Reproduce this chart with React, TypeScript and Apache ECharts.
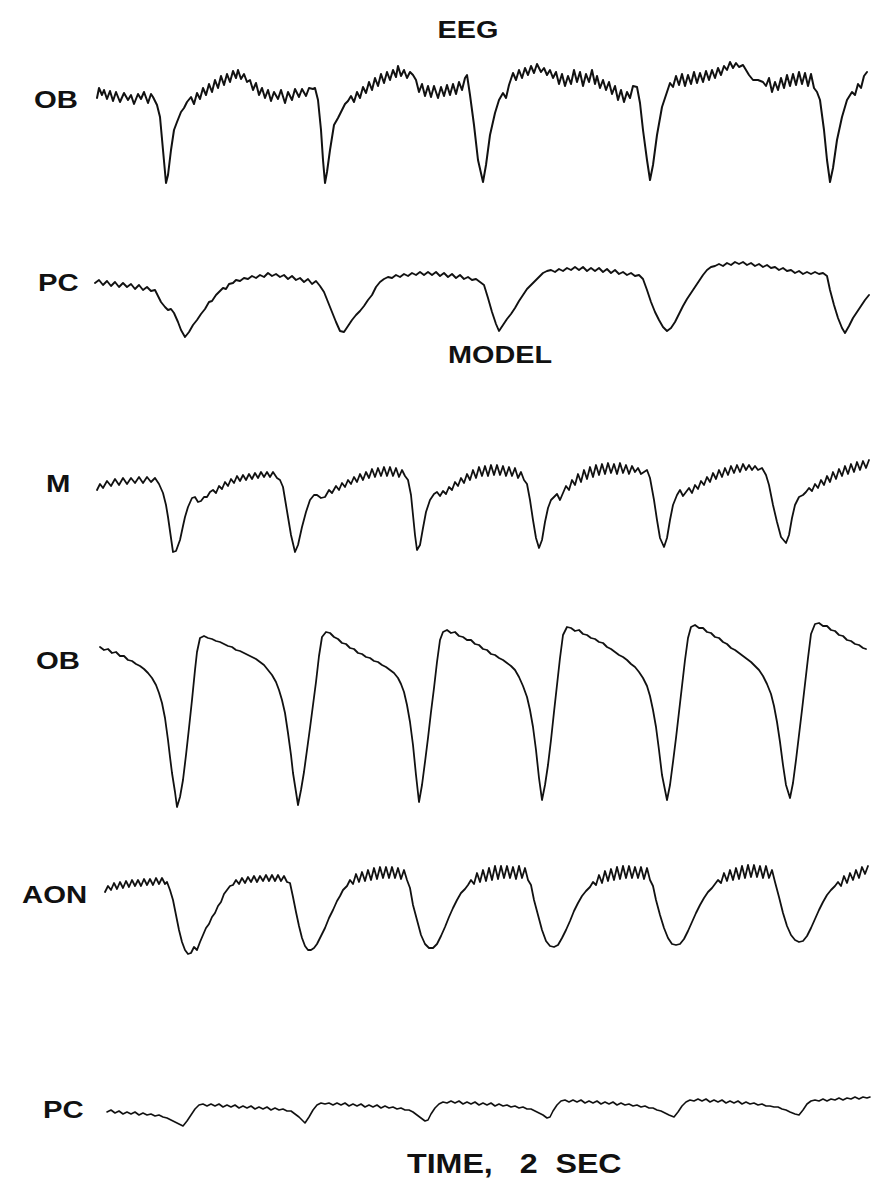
import React, { useEffect, useRef } from "react";
import * as echarts from "echarts";

// ---- data: [time sample, amplitude] ----
const traceNames = ["OB", "PC", "M", "OB", "AON", "PC"];
const sectionTitles = ["EEG", "MODEL"];
const timeLabel = "TIME,   2  SEC";

const eegOb: number[][] = [
  [7,2],[9,12],[12,5],[14,10],[17,1],[20,9],[23,-1],[26,8],[30,-2],[34,7],[38,0],[41,5],[44,-4],[48,6],[51,1],[54,8],[58,-3],[61,6],[63,3],
  [67,-5],[70,-17],[73,-50],[76,-83],[78,-75],[81,-50],[84,-30],[87,-22],[91,-12],[94,-8],[97,-2],
  [101,3],[104,-4],[107,7],[110,1],[113,12],[116,5],[119,16],[122,8],[125,20],[128,12],[131,24],[134,15],[137,26],[140,18],[143,29],[146,22],[148,30],[151,21],[154,26],[157,18],
  [160,20],[163,10],[166,17],[169,5],[172,12],[175,2],[178,10],[181,-1],[184,8],[188,1],[191,10],[195,-3],[198,8],[202,0],[205,11],[209,3],[212,11],[216,4],[219,12],[223,11],[225,12],
  [228,0],[231,-30],[233,-60],[235,-83],[237,-72],[240,-50],[244,-25],[248,-18],[252,-10],[255,-4],[258,-1],
  [261,4],[264,-2],[267,8],[270,2],[273,13],[276,7],[279,18],[282,10],[285,22],[288,14],[291,26],[294,17],[297,28],[300,20],[303,30],[306,23],[308,34],[311,24],[314,30],[317,22],[320,28],[323,25],
  [326,20],[329,8],[332,16],[335,4],[338,14],[341,3],[344,14],[348,2],[351,13],[354,4],[357,15],[360,5],[363,16],[366,6],[369,18],[372,10],[375,22],[377,25],
  [380,5],[384,-25],[388,-60],[393,-82],[396,-65],[400,-35],[405,-13],[409,0],[413,7],[416,2],[419,15],[423,27],
  [426,20],[429,30],[432,22],[435,32],[438,25],[441,34],[444,27],[447,36],[451,28],[454,32],[457,25],[460,30],[463,22],
  [466,28],[469,16],[472,26],[475,14],[478,24],[481,16],[484,30],[487,18],[490,28],[493,14],[496,26],[499,18],[502,30],[505,16],[507,24],
  [510,12],[513,20],[516,10],[519,18],[522,6],[525,14],[528,0],[531,10],[534,-2],[537,8],[540,2],[543,14],[547,13],
  [550,-3],[553,-30],[557,-60],[560,-80],[563,-65],[567,-35],[572,-7],[576,5],[580,17],
  [583,13],[586,24],[589,15],[592,26],[595,14],[598,25],[601,16],[604,28],[607,17],[610,27],[613,18],[616,29],[619,20],[622,30],[625,22],[628,32],[631,25],[634,34],[637,30],[640,38],[643,32],[646,37],[649,33],[653,35],
  [656,30],[659,25],[663,20],[668,20],[673,18],
  [676,14],[679,22],[682,8],[685,18],[688,10],[691,22],[694,12],[697,25],[700,14],[703,26],[706,15],[709,28],[712,16],[715,27],[718,14],[721,26],[724,12],[727,8],
  [730,0],[734,-30],[737,-60],[740,-82],[743,-68],[747,-40],[752,-17],[757,0],[762,8],[765,5],[768,16],[771,12],[774,24],[777,28]
];

const eegPc: number[][] = [
  [5,-3],[9,0],[13,-5],[17,-1],[21,-6],[25,-2],[29,-7],[33,-3],[37,-7],[41,-4],[45,-9],[49,-5],[53,-10],[57,-7],[61,-11],[65,-10],
  [68,-16],[71,-22],[75,-27],[78,-30],[81,-29],[84,-33],[88,-42],[91,-50],[95,-57],[99,-52],[103,-45],[107,-40],[111,-34],[115,-29],[119,-22],[122,-21],[126,-15],[129,-12],[133,-8],[136,-9],[139,-4],[143,-3],
  [146,0],[150,-1],[154,2],[158,1],[162,4],[166,2],[170,5],[174,3],[178,7],[182,4],[186,6],[190,3],[194,5],[198,1],[202,4],[206,0],[210,2],[214,-2],[218,1],[222,-4],[226,-1],[230,-6],
  [234,-12],[238,-22],[242,-32],[246,-42],[250,-51],[254,-52],[258,-46],[262,-40],[266,-35],[270,-31],[274,-26],[278,-20],[282,-15],[286,-7],[290,-2],
  [294,1],[298,3],[302,2],[306,5],[310,3],[314,6],[318,4],[322,7],[326,5],[330,8],[334,5],[338,8],[342,5],[346,8],[350,4],[354,7],[358,3],[362,6],[366,2],[370,5],[374,1],[378,3],[382,0],[386,1],[390,-2],[394,-5],
  [398,-18],[402,-32],[406,-44],[409,-51],[413,-45],[417,-39],[421,-34],[425,-28],[429,-21],[433,-15],[437,-9],[441,-5],[445,-1],[449,3],[453,7],
  [457,9],[461,10],[465,8],[469,11],[473,9],[477,12],[481,10],[485,13],[489,10],[493,13],[497,9],[501,12],[505,9],[509,12],[513,8],[517,11],[521,7],[525,10],[529,6],[533,8],[537,5],[541,7],[545,4],[549,5],[553,1],
  [557,-10],[561,-22],[565,-32],[569,-40],[573,-47],[577,-51],[581,-48],[585,-42],[589,-34],[593,-26],[597,-19],[601,-13],[605,-7],[609,-1],[613,5],[617,10],[621,13],
  [625,14],[629,16],[633,14],[637,17],[641,15],[645,18],[649,16],[653,18],[657,15],[661,17],[665,14],[669,16],[673,13],[677,15],[681,12],[685,13],[689,10],[693,12],[697,9],[701,10],[705,7],[709,9],[713,6],[717,8],[721,6],[725,8],[729,6],[733,7],[737,4],
  [740,-10],[744,-25],[748,-38],[752,-48],[755,-53],[759,-46],[763,-38],[767,-32],[771,-26],[775,-20],[779,-15]
];

const modelM: number[][] = [
  [7,-10],[10,-4],[13,-8],[17,-1],[21,-6],[25,1],[29,-5],[33,2],[37,-4],[41,2],[45,-3],[49,3],[53,-3],[57,3],[61,-2],[65,2],
  [69,-4],[73,-13],[76,-25],[78,-37],[81,-58],[83,-72],[86,-71],[90,-60],[93,-46],[95,-37],[98,-27],[102,-18],[105,-17],[108,-22],[111,-21],[114,-17],[117,-17],
  [120,-12],[123,-10],[126,-13],[129,-6],[132,-9],[135,-2],[138,-6],[141,1],[144,-3],[147,4],[150,-1],[153,5],[156,0],[159,6],[162,1],[165,7],[168,2],[171,8],[174,3],[177,8],[180,3],[183,8],[187,2],[190,0],
  [193,-7],[196,-25],[198,-37],[201,-55],[205,-72],[208,-65],[212,-47],[216,-32],[220,-20],[224,-15],[227,-15],[231,-18],[235,-17],
  [239,-10],[242,-13],[246,-6],[249,-10],[252,-3],[255,-7],[258,0],[261,-4],[264,3],[267,-2],[270,6],[273,0],[276,8],[279,2],[282,11],[285,3],[288,12],[291,4],[294,13],[297,4],[300,13],[303,4],[306,12],[309,3],[312,10],[315,4],[318,0],
  [321,-15],[323,-35],[325,-55],[327,-70],[330,-65],[333,-48],[336,-32],[340,-20],[344,-14],[347,-12],[350,-16],[353,-11],[356,-14],[359,-7],[362,-10],[365,-2],[368,-6],[371,2],[374,-3],[377,6],[380,0],
  [383,10],[386,2],[389,13],[392,4],[395,14],[398,4],[401,15],[404,5],[407,15],[410,5],[413,14],[416,4],[419,13],[422,4],[425,12],[428,2],[431,8],[434,0],[437,-4],
  [440,-20],[443,-40],[446,-58],[449,-68],[452,-60],[455,-42],[458,-28],[461,-20],[464,-17],[467,-14],[470,-20],[473,-13],[476,-6],[479,-10],[482,0],[485,-5],
  [488,6],[491,-2],[494,10],[497,1],[500,13],[503,3],[506,15],[509,5],[512,16],[515,6],[518,17],[521,7],[524,16],[527,6],[530,17],[533,7],[536,15],[539,6],[542,14],[545,8],[548,12],[551,6],[554,8],[557,10],[560,2],
  [564,-20],[567,-40],[570,-58],[574,-67],[577,-58],[580,-40],[583,-25],[587,-15],[590,-10],[593,-16],[596,-12],[599,-8],[602,-13],[605,-5],[608,-9],[611,-1],[614,-5],[617,3],[620,-2],
  [623,7],[626,1],[629,10],[632,3],[635,12],[638,5],[641,14],[644,7],[647,15],[650,8],[653,16],[656,10],[659,15],[662,10],[665,14],[668,10],[672,12],[676,5],
  [679,-5],[683,-25],[687,-42],[691,-57],[696,-63],[699,-55],[702,-38],[705,-25],[709,-17],[713,-15],[716,-12],[719,-8],[722,-11],[725,-4],[728,-8],[731,0],[734,-5],
  [737,4],[740,-2],[743,8],[746,1],[749,11],[752,4],[755,14],[758,6],[761,16],[764,8],[767,18],[770,10],[773,19],[776,12],[779,20]
];

const modelOb: number[][] = [
  [10,3],[14,0],[18,1],[22,-3],[26,-2],[30,-6],[34,-6],[38,-10],[42,-11],[46,-14],[50,-16],[54,-19],[58,-23],[62,-28],[66,-35],[69,-43],[72,-53],[75,-68],[78,-90],[80,-107],[82,-123],[85,-142],[87,-157],
  [90,-147],[93,-130],[96,-105],[99,-78],[102,-50],[105,-20],[107,-2],[110,12],[114,14],
  [118,12],[122,11],[126,9],[130,8],[134,6],[138,4],[142,3],[146,0],[150,-1],[154,-3],[158,-5],[162,-7],[166,-9],[170,-12],[174,-15],[178,-20],[182,-25],[186,-32],[189,-40],[192,-50],[195,-63],[198,-83],[201,-105],[203,-123],[206,-142],[208,-155],
  [211,-140],[214,-122],[217,-100],[220,-78],[223,-55],[226,-32],[229,-6],[232,13],[236,18],
  [240,17],[244,13],[248,11],[252,7],[256,6],[260,2],[264,1],[268,-3],[272,-4],[276,-7],[280,-8],[284,-11],[288,-12],[292,-15],[296,-17],[300,-20],[304,-23],[308,-28],[311,-34],[314,-42],[317,-55],[320,-72],[323,-95],[326,-125],[329,-152],
  [332,-135],[335,-112],[338,-88],[341,-62],[344,-38],[347,-12],[350,10],[353,18],[357,20],
  [361,17],[365,18],[369,14],[373,13],[377,10],[381,10],[385,6],[389,5],[393,1],[397,0],[401,-4],[405,-5],[409,-8],[413,-10],[417,-13],[421,-16],[425,-20],[429,-27],[433,-36],[437,-47],[440,-60],[443,-77],[446,-100],[449,-128],[452,-150],
  [455,-135],[458,-115],[461,-90],[464,-62],[467,-35],[470,-8],[473,15],[477,23],
  [481,22],[485,19],[489,20],[493,16],[497,15],[501,12],[505,11],[509,8],[513,7],[517,3],[521,1],[525,-2],[529,-5],[533,-7],[537,-10],[541,-14],[545,-17],[549,-22],[553,-28],[557,-36],[560,-46],[563,-60],[566,-77],[569,-100],[572,-125],[577,-150],
  [580,-135],[583,-112],[586,-88],[589,-62],[592,-36],[595,-10],[598,12],[601,23],[605,25],
  [609,22],[613,22],[617,18],[621,17],[625,13],[629,12],[633,8],[637,6],[641,2],[645,0],[649,-3],[653,-6],[657,-9],[661,-12],[665,-16],[669,-20],[673,-26],[677,-34],[681,-44],[684,-56],[687,-72],[690,-92],[693,-115],[696,-135],[700,-148],
  [703,-133],[706,-110],[709,-85],[712,-60],[715,-34],[718,-8],[721,16],[725,26],[729,27],
  [733,24],[737,24],[741,20],[745,19],[749,15],[753,14],[757,10],[761,9],[765,6],[769,5],[773,2],[776,1]
];

const modelAon: number[][] = [
  [15,-2],[18,4],[21,0],[24,7],[27,1],[30,8],[33,2],[36,9],[39,3],[42,10],[45,4],[48,10],[51,4],[54,11],[57,5],[60,11],[63,5],[66,12],[69,6],[72,12],[75,6],[77,8],
  [80,0],[83,-10],[86,-25],[89,-40],[92,-52],[95,-60],[98,-64],[101,-63],[104,-57],[107,-60],[110,-52],[113,-45],[116,-38],[119,-34],[122,-27],[125,-23],[128,-16],[131,-12],[134,-4],[137,0],[140,4],[143,5],
  [146,10],[149,6],[152,12],[155,7],[158,13],[161,8],[164,14],[167,8],[170,14],[173,9],[176,15],[179,9],[182,15],[185,9],[188,15],[191,9],[194,14],[197,8],[200,7],
  [203,-7],[206,-22],[209,-36],[212,-48],[215,-56],[218,-60],[221,-60],[224,-58],[227,-54],[231,-46],[235,-38],[239,-28],[243,-20],[247,-11],[250,-6],[253,0],[257,4],
  [260,10],[263,6],[266,16],[269,8],[272,18],[275,9],[278,20],[281,10],[284,22],[287,11],[290,23],[293,12],[296,23],[299,12],[302,23],[305,12],[308,22],[311,11],[314,20],[317,10],[320,2],
  [323,-15],[327,-30],[331,-45],[335,-54],[339,-58],[343,-58],[347,-54],[351,-46],[355,-37],[359,-27],[363,-18],[367,-10],[371,-3],[375,1],[378,5],
  [381,10],[384,6],[387,17],[390,8],[393,20],[396,9],[399,22],[402,10],[405,24],[408,11],[411,24],[414,12],[417,24],[420,12],[423,23],[426,11],[429,24],[432,12],[435,22],[438,10],[441,5],
  [444,-10],[448,-25],[452,-40],[456,-51],[460,-56],[464,-57],[468,-55],[472,-48],[476,-40],[480,-31],[484,-21],[488,-13],[492,-6],[496,-1],[500,3],
  [503,8],[506,5],[509,15],[512,7],[515,19],[518,9],[521,21],[524,10],[527,23],[530,11],[533,24],[536,12],[539,24],[542,12],[545,23],[548,12],[551,23],[554,11],[557,22],[560,10],[563,4],
  [566,-10],[570,-25],[574,-38],[578,-48],[582,-54],[586,-55],[590,-54],[594,-49],[598,-41],[602,-32],[606,-23],[610,-15],[614,-8],[618,-2],[622,2],[625,6],
  [628,10],[631,7],[634,17],[637,9],[640,20],[643,10],[646,22],[649,11],[652,24],[655,12],[658,25],[661,13],[664,25],[667,13],[670,24],[673,12],[676,24],[679,12],[682,20],[685,8],
  [689,-7],[693,-23],[697,-36],[701,-45],[705,-50],[709,-52],[713,-51],[717,-46],[721,-38],[725,-29],[729,-20],[733,-12],[737,-5],[741,0],[745,4],
  [748,8],[751,4],[754,14],[757,7],[760,17],[763,10],[766,20],[769,12],[772,23],[775,16],[778,24]
];

const modelPc: number[][] = [
  [17,-2],[21,0],[25,-3],[29,-1],[33,-4],[37,-2],[41,-4],[45,-2],[49,-5],[53,-3],[57,-5],[61,-4],[65,-6],[69,-5],[73,-7],[77,-8],[81,-10],[85,-12],[89,-14],[93,-16],
  [97,-11],[101,-5],[105,1],[109,5],[113,6],[117,4],[121,6],[125,4],[129,6],[133,3],[137,5],[141,3],[145,5],[149,2],[153,4],[157,2],[161,4],[165,1],[169,3],[173,1],[177,3],[181,0],[185,2],[189,0],[193,1],[197,-1],[201,-1],
  [205,-4],[209,-7],[212,-10],[215,-13],[219,-7],[223,0],[227,5],[231,7],[235,6],[239,7],[243,5],[247,7],[251,5],[255,7],[259,4],[263,6],[267,4],[271,6],[275,3],[279,5],[283,3],[287,5],[291,2],[295,4],[299,2],[303,3],[307,1],[311,2],[315,0],[319,0],
  [323,-2],[327,-5],[331,-8],[335,-11],[338,-10],[341,-4],[345,2],[349,6],[353,8],[357,7],[361,9],[365,7],[369,9],[373,6],[377,8],[381,6],[385,8],[389,5],[393,7],[397,5],[401,7],[405,4],[409,6],[413,4],[417,5],[421,3],[425,4],[429,2],[433,3],[437,1],[441,1],
  [445,-1],[449,-3],[453,-5],[457,-8],[460,-7],[463,-1],[467,5],[471,9],[475,10],[479,8],[483,10],[487,8],[491,10],[495,7],[499,9],[503,7],[507,9],[511,6],[515,8],[519,6],[523,8],[527,5],[531,7],[535,5],[539,6],[543,4],[547,5],[551,3],[555,4],[559,2],[563,2],[567,0],
  [571,-1],[575,-3],[579,-5],[584,-7],[588,-2],[592,4],[596,8],[600,10],[604,9],[608,11],[612,9],[616,11],[620,8],[624,10],[628,8],[632,10],[636,7],[640,9],[644,7],[648,9],[652,6],[656,8],[660,6],[664,7],[668,5],[672,6],[676,4],[680,4],[684,3],[688,3],[692,1],[696,0],
  [700,-2],[705,-4],[709,-5],[713,0],[717,6],[721,9],[725,10],[729,9],[733,11],[737,9],[741,11],[745,10],[749,12],[753,10],[757,12],[761,11],[765,13],[769,11],[773,13],[777,12],[780,13]
];

const traces = [eegOb, eegPc, modelM, modelOb, modelAon, modelPc];
// amplitude range shown in each strip [min, max]
const ampRanges = [[-95, 45], [-70, 40], [-90, 30], [-170, 40], [-70, 40], [-25, 20]];
const timeRange = [0, 790];

// ---- layout (pixels) ----
const W = 888;
const H = 1193;
const stripTops = [55, 240, 450, 610, 850, 1090];
const stripLeft = 90;
const stripWidth = 790;
const lineWidths = [2.0, 1.9, 1.8, 1.8, 1.8, 1.6];
const labelPos = [[34, 100], [38, 283], [46, 484], [36, 661], [22, 895], [43, 1110]];
const titlePos = [[468, 30], [500, 355]];
const INK = "#111111";
const FONT = '"Liberation Sans", Arial, Helvetica, sans-serif';

export default function App() {
  const ref = useRef<HTMLDivElement>(null);

  useEffect(() => {
    if (!ref.current) return;
    const chart = echarts.init(ref.current, undefined, { renderer: "svg" });

    const grids = traces.map((_, i) => {
      const [mn, mx] = ampRanges[i];
      return { left: stripLeft, top: stripTops[i], width: stripWidth, height: mx - mn };
    });
    const xAxes = traces.map((_, i) => ({
      type: "value", gridIndex: i, min: timeRange[0], max: timeRange[1], show: false,
    }));
    const yAxes = traces.map((_, i) => ({
      type: "value", gridIndex: i, min: ampRanges[i][0], max: ampRanges[i][1], show: false,
    }));
    const series = traces.map((d, i) => ({
      type: "line",
      xAxisIndex: i,
      yAxisIndex: i,
      data: d,
      symbol: "none",
      silent: true,
      lineStyle: { color: INK, width: lineWidths[i], join: "round", cap: "round" },
    }));

    const labelTexts = traceNames.map((name, i) => ({
      type: "text",
      x: labelPos[i][0],
      y: labelPos[i][1],
      scaleX: 1.22,
      style: {
        text: name, fill: INK, font: `bold 24px ${FONT}`,
        textAlign: "left", textVerticalAlign: "middle",
      },
    }));
    const titleTexts = sectionTitles.map((t, i) => ({
      type: "text",
      x: titlePos[i][0],
      y: titlePos[i][1],
      scaleX: 1.2,
      style: {
        text: t, fill: INK, font: `bold 24px ${FONT}`,
        textAlign: "center", textVerticalAlign: "middle",
      },
    }));
    const timeText = {
      type: "text",
      x: 407,
      y: 1163,
      scaleX: 1.15,
      style: {
        text: timeLabel, fill: INK, font: `bold 28px ${FONT}`,
        textAlign: "left", textVerticalAlign: "middle",
      },
    };

    chart.setOption({
      animation: false,
      backgroundColor: "#ffffff",
      grid: grids,
      xAxis: xAxes,
      yAxis: yAxes,
      series,
      graphic: [...titleTexts, ...labelTexts, timeText],
    });

    return () => chart.dispose();
  }, []);

  return (
    <div
      ref={ref}
      style={{ position: "fixed", left: 0, top: 0, width: W, height: H, background: "#fff" }}
    />
  );
}
